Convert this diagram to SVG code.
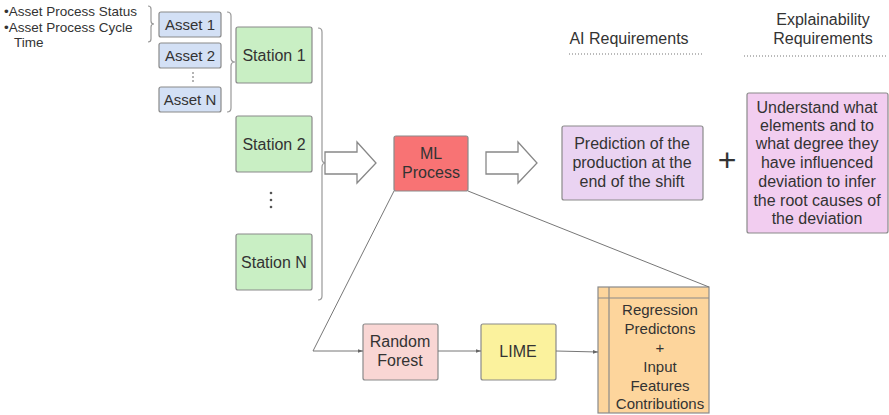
<svg xmlns="http://www.w3.org/2000/svg" width="889" height="415" viewBox="0 0 889 415">
  <style>
    text { font-family: "Liberation Sans", Arial, sans-serif; fill: #333; }
    .lbl { font-size: 16px; text-anchor: middle; }
    .mid { font-size: 15px; text-anchor: middle; }
    .sm { font-size: 15px; text-anchor: middle; }
    .note { font-size: 13.5px; }
    .box { stroke: #8a8a8a; stroke-width: 1.2; }
    .asset { fill: #d3e0f5; }
    .station { fill: #c9efc4; }
    .brace { fill: none; stroke: #999; stroke-width: 1.2; }
    .bigarrow { fill: #fff; stroke: #888; stroke-width: 1.3; }
    .conn { fill: none; stroke: #777; stroke-width: 1; }
    .dots { stroke: #777; stroke-width: 1.2; stroke-dasharray: 1 2; }
    .dot { fill: #555; }
  </style>
  <defs>
    <marker id="tip" viewBox="0 0 6 6" refX="6" refY="3" markerWidth="5" markerHeight="5" orient="auto">
      <path d="M0,0.8 L6,3 L0,5.2 z" fill="#666"/>
    </marker>
  </defs>

  <!-- asset attribute notes -->
  <g id="asset-notes">
    <text class="note" x="4" y="16">•Asset Process Status</text>
    <text class="note" x="4" y="32">•Asset Process Cycle</text>
    <text class="note" x="14" y="47">Time</text>
    <path class="brace" d="M148,6 Q151,6 151,9 V21 Q151,24 154,24 Q151,24 151,27 V39 Q151,42 148,42"/>
  </g>

  <!-- assets -->
  <g id="asset-1"><rect class="box asset" x="159" y="12" width="62" height="25" rx="2"/><text class="sm" x="190" y="30">Asset 1</text></g>
  <g id="asset-2"><rect class="box asset" x="159" y="43" width="62" height="25" rx="2"/><text class="sm" x="190" y="61">Asset 2</text></g>
  <g id="asset-dots"><circle class="dot" cx="193" cy="73" r="0.8"/><circle class="dot" cx="193" cy="77" r="0.8"/><circle class="dot" cx="193" cy="81" r="0.8"/></g>
  <g id="asset-n"><rect class="box asset" x="159" y="87" width="62" height="25" rx="2"/><text class="sm" x="190" y="105">Asset N</text></g>
  <g id="asset-brace"><path class="brace" d="M227,12 Q231,12 231,16 V58 Q231,62 235,62 Q231,62 231,66 V108 Q231,112 227,112"/></g>

  <!-- stations -->
  <g id="station-1"><rect class="box station" x="236" y="27" width="76" height="56" rx="2"/><text class="lbl" x="274" y="61">Station 1</text></g>
  <g id="station-2"><rect class="box station" x="236" y="116" width="76" height="56" rx="2"/><text class="lbl" x="274" y="150">Station 2</text></g>
  <g id="station-dots"><circle class="dot" cx="271" cy="193" r="1.3"/><circle class="dot" cx="271" cy="200" r="1.3"/><circle class="dot" cx="271" cy="207" r="1.3"/></g>
  <g id="station-n"><rect class="box station" x="236" y="234" width="76" height="56" rx="2"/><text class="lbl" x="274" y="268">Station N</text></g>
  <g id="station-brace"><path class="brace" d="M318,28 Q322,28 322,32 V159 Q322,163 326,163 Q322,163 322,167 V296 Q322,300 318,300"/></g>

  <!-- block arrows -->
  <g id="arrow-in"><polygon class="bigarrow" points="325,152 357,152 357,142 376,163 357,183 357,174 325,174"/></g>
  <g id="arrow-out"><polygon class="bigarrow" points="486,152 518,152 518,142 537,163 518,183 518,174 486,174"/></g>

  <!-- ML process -->
  <g id="ml-process"><rect class="box" x="394" y="136" width="74" height="55" rx="2" fill="#f87374"/><text class="lbl" x="431" y="159">ML</text><text class="lbl" x="431" y="178">Process</text></g>

  <!-- requirement headers -->
  <g id="ai-header">
    <text class="lbl" x="629" y="44">AI Requirements</text>
    <line class="dots" x1="569" y1="54" x2="703" y2="54"/>
  </g>
  <g id="xai-header">
    <text class="lbl" x="823" y="25">Explainability</text>
    <text class="lbl" x="823" y="44">Requirements</text>
    <line class="dots" x1="744" y1="56" x2="888" y2="56"/>
  </g>

  <!-- requirements -->
  <g id="ai-req"><rect class="box" x="562" y="126" width="141" height="74" rx="2" fill="#ead3f2"/>
    <text class="lbl" x="632" y="149">Prediction of the</text>
    <text class="lbl" x="632" y="168">production at the</text>
    <text class="lbl" x="632" y="187">end of the shift</text>
  </g>
  <g id="plus"><text x="727" y="171" font-size="32" text-anchor="middle">+</text></g>
  <g id="xai-req"><rect class="box" x="747" y="93" width="141" height="140" rx="2" fill="#f2cdf0"/>
    <text class="lbl" x="817" y="113">Understand what</text>
    <text class="lbl" x="817" y="131">elements and to</text>
    <text class="lbl" x="817" y="149">what degree they</text>
    <text class="lbl" x="817" y="168">have influenced</text>
    <text class="lbl" x="817" y="187">deviation to infer</text>
    <text class="lbl" x="817" y="206">the root causes of</text>
    <text class="lbl" x="817" y="224">the deviation</text>
  </g>

  <!-- pipeline -->
  <g id="random-forest"><rect class="box" x="363" y="324" width="75" height="56" rx="2" fill="#f9d6d4"/><text class="lbl" x="400" y="347">Random</text><text class="lbl" x="400" y="366">Forest</text></g>
  <g id="lime"><rect class="box" x="481" y="324" width="75" height="56" rx="2" fill="#fbf29d"/><text class="lbl" x="518" y="357">LIME</text></g>
  <g id="results"><rect class="box" x="598" y="287" width="111" height="126" fill="#fdd59c"/>
    <line class="box" x1="609" y1="287" x2="609" y2="413"/>
    <line class="box" x1="598" y1="298" x2="709" y2="298"/>
    <text class="mid" x="660" y="315">Regression</text>
    <text class="mid" x="660" y="334">Predictons</text>
    <text class="mid" x="660" y="353">+</text>
    <text class="mid" x="660" y="372">Input</text>
    <text class="mid" x="660" y="391">Features</text>
    <text class="mid" x="660" y="409">Contributions</text>
  </g>

  <!-- connectors -->
  <g id="connectors">
    <polyline class="conn" points="394,191 313,351 363,351" marker-end="url(#tip)"/>
    <line class="conn" x1="438" y1="351" x2="481" y2="351" marker-end="url(#tip)"/>
    <line class="conn" x1="556" y1="351" x2="598" y2="352" marker-end="url(#tip)"/>
    <line class="conn" x1="468" y1="191" x2="709" y2="287"/>
  </g>
</svg>
